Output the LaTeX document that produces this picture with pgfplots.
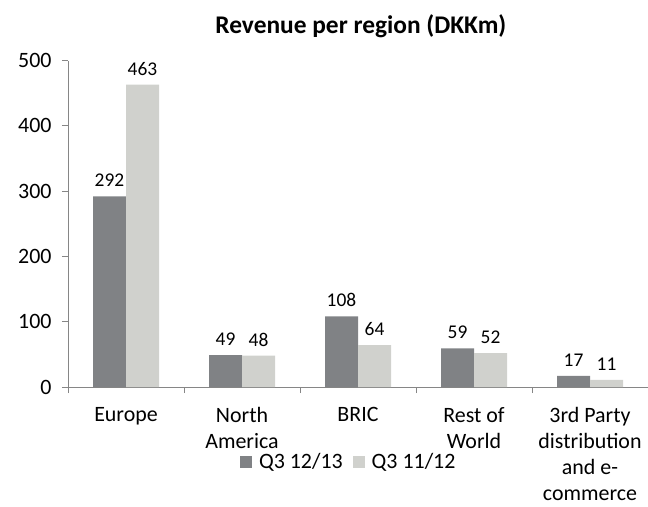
\documentclass[border=0pt]{standalone}
\usepackage{pgfplots}
\pgfplotsset{compat=1.18}
\usepackage{fontspec}
\setmainfont{Carlito}
\definecolor{darkbar}{RGB}{128,130,133}
\definecolor{lightbar}{RGB}{208,209,205}
\definecolor{axgray}{RGB}{134,134,134}
\begin{document}
\begin{tikzpicture}
\begin{axis}[
  scale only axis, width=580bp, height=326.5bp,
  font=\fontsize{22}{26}\selectfont,
  /pgf/number format/assume math mode=true,
  ybar=0pt, bar width=33bp,
  xmin=-0.5, xmax=4.5, ymin=0, ymax=500,
  ytick={0,100,...,500},
  xtick={0,1,2,3,4},
  xticklabels={Europe,{North\\America},BRIC,{Rest of\\World},{3rd Party\\distribution\\and e-\\commerce}},
  xticklabel style={align=center, yshift=-11bp},
  yticklabel style={xshift=-7bp},
  major x tick style={draw=none},
  minor xtick={-0.5,0.5,1.5,2.5,3.5,4.5},
  minor tick length=6bp, major tick length=6bp,
  tick align=outside,
  axis lines*=left,
  axis line style={draw=axgray, line width=1bp},
  every tick/.style={draw=axgray, line width=1bp},
  tick label style={black},
  nodes near coords,
  nodes near coords style={black, font=\fontsize{19.5}{23}\selectfont, yshift=6bp},
  title={\textbf{Revenue per region (DKKm)}},
  title style={at={(0.505,1.087)}, anchor=center, font=\fontsize{25.5}{30}\selectfont},
  legend columns=2,
  legend style={draw=none, at={(0.484,-0.23)}, anchor=center, font=\fontsize{22}{26}\selectfont,
    /tikz/every odd column/.append style={column sep=5bp},
    /tikz/every even column/.append style={column sep=8bp}},
  legend image code/.code={\fill[#1] (0bp,-6bp) rectangle (12bp,6bp);},
]
\addplot[fill=darkbar, draw=none] coordinates {(0,292) (1,49) (2,108) (3,59) (4,17)};
\addplot[fill=lightbar, draw=none] coordinates {(0,463) (1,48) (2,64) (3,52) (4,11)};
\legend{Q3 12/13, Q3 11/12}
\end{axis}
\pgfresetboundingbox
\path ([shift={(-68bp,-119bp)}]current axis.south west) rectangle ([shift={(0bp,60.5bp)}]current axis.north east);
\end{tikzpicture}
\end{document}
